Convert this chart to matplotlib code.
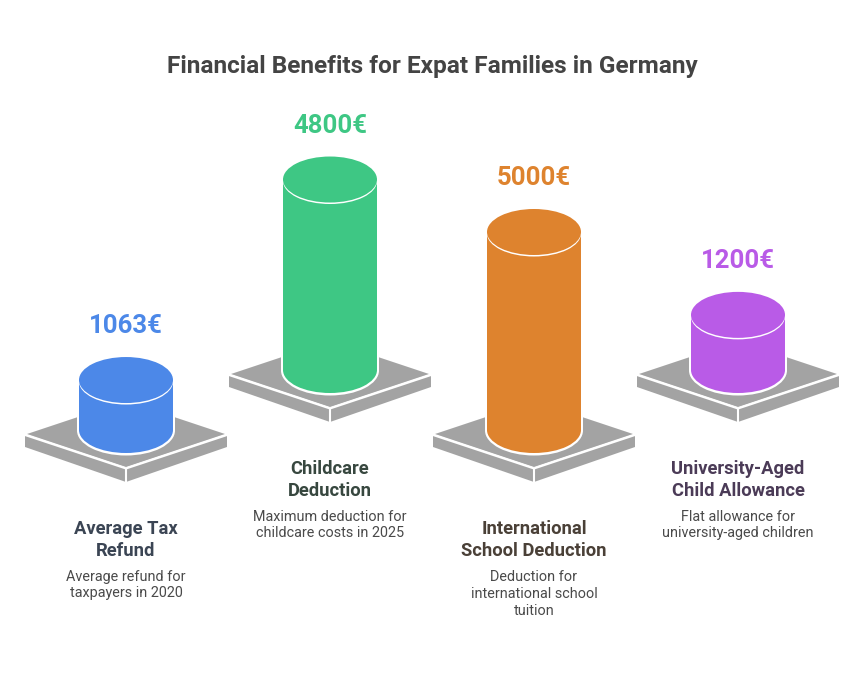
import matplotlib
matplotlib.use("Agg")
import matplotlib.pyplot as plt
from matplotlib.patches import Ellipse, Polygon, Rectangle

plt.rcParams['font.family'] = ['Roboto', 'DejaVu Sans']

title = "Financial Benefits for Expat Families in Germany"
values = [1063, 4800, 5000, 1200]
value_labels = ["1063€", "4800€", "5000€", "1200€"]
headings = ["Average Tax\nRefund", "Childcare\nDeduction",
            "International\nSchool Deduction", "University-Aged\nChild Allowance"]
notes = ["Average refund for\ntaxpayers in 2020", "Maximum deduction for\nchildcare costs in 2025",
         "Deduction for\ninternational school\ntuition", "Flat allowance for\nuniversity-aged children"]
colors = ["#4C88E8", "#3EC784", "#DE832E", "#B95BE7"]
heading_colors = ["#3B4554", "#37473F", "#4A4037", "#4B3B57"]
note_color = "#4A4A4A"
centers = [126, 330, 534, 738]
floors = [430, 370, 430, 370]

GRAY = "#A3A3A3"
RX, RY = 47, 23


def bar_height(v):
    # the cylinders in the picture grow linearly with the value
    return 10 + 0.0376 * v


def draw_plate(ax, cx, floor):
    left = floor + 5
    ax.add_patch(Polygon([(cx - 101, left), (cx, left + 33), (cx, left + 47), (cx - 101, left + 12)],
                         fc=GRAY, ec="none", zorder=1))
    ax.add_patch(Polygon([(cx + 101, left), (cx, left + 33), (cx, left + 47), (cx + 101, left + 12)],
                         fc=GRAY, ec="none", zorder=1))
    ax.add_patch(Polygon([(cx - 99, left - 1), (cx, left - 34), (cx + 99, left - 1), (cx, left + 32)],
                         fc=GRAY, ec="none", zorder=1))
    # white seams between top and sides
    ax.plot([cx - 101, cx, cx + 101], [left, left + 33.5, left], color="white", lw=1.5, zorder=2,
            solid_joinstyle="miter")
    ax.plot([cx, cx], [left + 33.5, left + 47], color="white", lw=1.5, zorder=2)


def draw_cylinder(ax, cx, floor, h, color):
    top = floor - h
    # white halo first
    ax.add_patch(Ellipse((cx, floor + 0.5), 2 * RX + 4, 2 * RY + 4, fc="white", ec="none", zorder=3))
    ax.add_patch(Rectangle((cx - RX - 2, top), 2 * RX + 4, h, fc="white", ec="none", zorder=3))
    ax.add_patch(Ellipse((cx, floor), 2 * RX, 2 * RY, fc=color, ec="none", zorder=4))
    ax.add_patch(Rectangle((cx - RX, top), 2 * RX, h, fc=color, ec="none", zorder=4))
    ax.add_patch(Ellipse((cx, top + 1.5), 2 * RX, 2 * RY, fc="white", ec="none", zorder=5))
    ax.add_patch(Ellipse((cx, top), 2 * RX, 2 * RY, fc=color, ec="none", zorder=6))


fig = plt.figure(figsize=(8.64, 6.85), dpi=100)
ax = fig.add_axes([0, 0, 1, 1])
ax.set_xlim(0, 864)
ax.set_ylim(685, 0)
ax.axis("off")

ax.text(432, 66, title, ha="center", va="center", fontsize=17.6, fontweight="bold", color="#444444")

for i in range(len(values)):
    cx = centers[i]
    floor = floors[i]
    h = bar_height(values[i])
    draw_plate(ax, cx, floor)
    draw_cylinder(ax, cx, floor, h, colors[i])
    ax.text(cx, floor - h - 54, value_labels[i], ha="center", va="center", fontsize=18.5,
            fontweight="bold", color=colors[i])
    ax.text(cx, floor + 110, headings[i], ha="center", va="center", fontsize=13.2, fontweight="bold",
            color=heading_colors[i], linespacing=1.3)
    n_lines = notes[i].count("\n") + 1
    ax.text(cx, floor + 155 + (n_lines - 2) * 9, notes[i], ha="center", va="center", fontsize=10.4,
            color=note_color, linespacing=1.25)

fig.savefig("out.png", dpi=100)
